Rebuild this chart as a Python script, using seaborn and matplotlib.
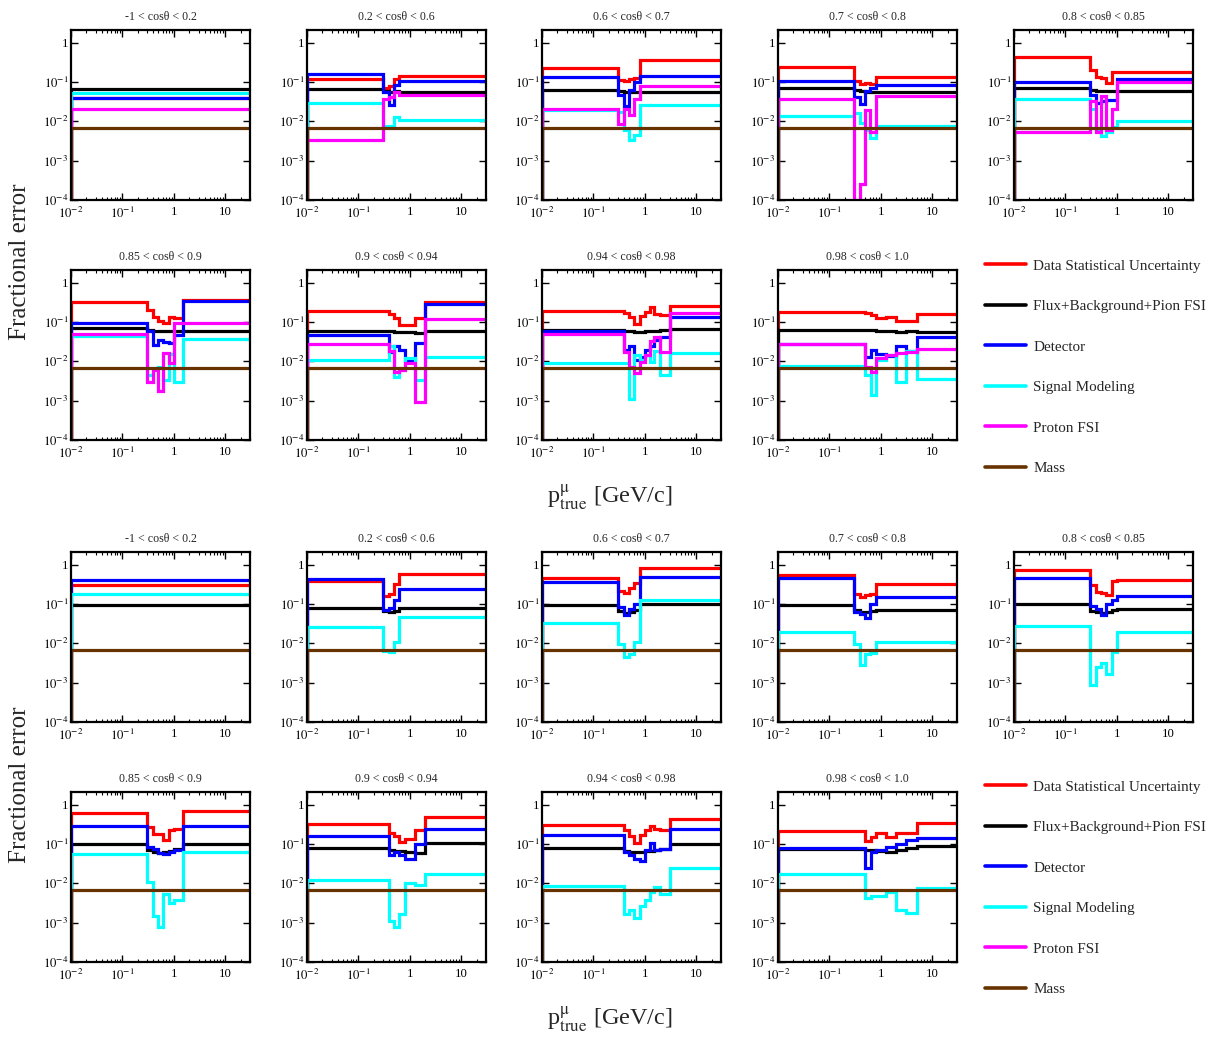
import matplotlib
matplotlib.use("Agg")
import matplotlib.pyplot as plt
import seaborn as sns
import pandas as pd
from matplotlib.lines import Line2D
from matplotlib.ticker import NullLocator, LogLocator

# ---------------- data ----------------
TITLES = ["-1 < cosθ < 0.2", "0.2 < cosθ < 0.6", "0.6 < cosθ < 0.7", "0.7 < cosθ < 0.8",
          "0.8 < cosθ < 0.85", "0.85 < cosθ < 0.9", "0.9 < cosθ < 0.94", "0.94 < cosθ < 0.98",
          "0.98 < cosθ < 1.0"]

EDGES = [
    [0.01, 30],
    [0.01, 0.3, 0.4, 0.5, 0.6, 30],
    [0.01, 0.3, 0.4, 0.5, 0.6, 0.8, 30],
    [0.01, 0.3, 0.4, 0.5, 0.6, 0.8, 30],
    [0.01, 0.3, 0.4, 0.5, 0.6, 0.8, 1.0, 30],
    [0.01, 0.3, 0.4, 0.5, 0.6, 0.8, 1.0, 1.5, 30],
    [0.01, 0.4, 0.5, 0.6, 0.8, 1.25, 2.0, 30],
    [0.01, 0.4, 0.5, 0.6, 0.8, 1.0, 1.25, 1.5, 2.0, 3.0, 30],
    [0.01, 0.5, 0.65, 0.8, 1.25, 2.0, 3.0, 5.0, 30],
]

SERIES_LABELS = ["Data Statistical Uncertainty", "Flux+Background+Pion FSI", "Detector",
                 "Signal Modeling", "Proton FSI", "Mass"]
SERIES_COLORS = ["#ff0000", "#000000", "#0000ff", "#00ffff", "#ff00ff", "#663300"]

X_TICKS = [0.01, 0.1, 1, 10]
X_TICKLABELS = [r"$10^{-2}$", r"$10^{-1}$", "1", "10"]
Y_TICKS = [1e-4, 1e-3, 1e-2, 1e-1, 1]
Y_TICKLABELS = [r"$10^{-4}$", r"$10^{-3}$", r"$10^{-2}$", r"$10^{-1}$", "1"]

# ---- upper group ----
TOP_RED = [
    [0.040],
    [0.12, 0.07, 0.08, 0.12, 0.145],
    [0.23, 0.11, 0.108, 0.12, 0.13, 0.36],
    [0.245, 0.106, 0.087, 0.092, 0.087, 0.137],
    [0.44, 0.20, 0.137, 0.13, 0.093, 0.18, 0.18],
    [0.32, 0.20, 0.137, 0.106, 0.093, 0.137, 0.13, 0.36],
    [0.194, 0.157, 0.13, 0.084, 0.084, 0.13, 0.33],
    [0.19, 0.166, 0.137, 0.087, 0.142, 0.18, 0.245, 0.157, 0.15, 0.255],
    [0.18, 0.166, 0.15, 0.124, 0.137, 0.106, 0.106, 0.157],
]
TOP_BLACK = [
    [0.066],
    [0.066, 0.059, 0.055, 0.058, 0.057],
    [0.063, 0.058, 0.057, 0.057, 0.056, 0.055],
    [0.069, 0.062, 0.058, 0.057, 0.056, 0.055],
    [0.069, 0.062, 0.060, 0.059, 0.059, 0.059, 0.059],
    [0.069, 0.064, 0.060, 0.059, 0.058, 0.058, 0.059, 0.060],
    [0.059, 0.058, 0.057, 0.056, 0.055, 0.054, 0.060],
    [0.063, 0.060, 0.058, 0.057, 0.057, 0.058, 0.058, 0.060, 0.062, 0.066],
    [0.063, 0.062, 0.061, 0.060, 0.058, 0.056, 0.060, 0.056],
]
TOP_BLUE = [
    [0.040],
    [0.157, 0.055, 0.026, 0.084, 0.106],
    [0.137, 0.048, 0.024, 0.063, 0.098, 0.145],
    [0.106, 0.042, 0.027, 0.059, 0.072, 0.084],
    [0.098, 0.047, 0.029, 0.032, 0.035, 0.035, 0.12],
    [0.096, 0.059, 0.026, 0.035, 0.031, 0.029, 0.047, 0.34],
    [0.048, 0.017, 0.025, 0.019, 0.011, 0.029, 0.28],
    [0.059, 0.019, 0.025, 0.011, 0.013, 0.019, 0.025, 0.035, 0.042, 0.137],
    [0.027, 0.013, 0.019, 0.015, 0.014, 0.024, 0.018, 0.042],
]
TOP_CYAN = [
    [0.052],
    [0.030, 0.0078, 0.0078, 0.0126, 0.0108],
    [0.019, 0.017, 0.006, 0.0034, 0.0045, 0.026],
    [0.014, 0.016, 0.009, 0.006, 0.0038, 0.0078],
    [0.036, 0.021, 0.006, 0.0043, 0.0055, 0.0073, 0.0102],
    [0.045, 0.0045, 0.006, 0.007, 0.0034, 0.015, 0.003, 0.036],
    [0.011, 0.024, 0.0041, 0.006, 0.012, 0.0034, 0.013],
    [0.0089, 0.0089, 0.0011, 0.0145, 0.011, 0.0145, 0.0098, 0.018, 0.0045, 0.016],
    [0.0078, 0.0045, 0.0014, 0.011, 0.0145, 0.0029, 0.018, 0.0036],
]
TOP_MAGENTA = [
    [0.021],
    [0.0034, 0.036, 0.042, 0.055, 0.048],
    [0.020, 0.0084, 0.021, 0.0145, 0.036, 0.08],
    [0.036, 0.0001, 0.00025, 0.019, 0.0055, 0.045],
    [0.0055, 0.032, 0.0055, 0.045, 0.006, 0.02, 0.1],
    [0.051, 0.003, 0.006, 0.0018, 0.016, 0.009, 0.096, 0.096],
    [0.027, 0.018, 0.0055, 0.006, 0.009, 0.00094, 0.12],
    [0.051, 0.0175, 0.0073, 0.005, 0.0098, 0.0145, 0.032, 0.042, 0.0175, 0.166],
    [0.027, 0.0073, 0.0055, 0.012, 0.0145, 0.016, 0.0175, 0.021],
]
TOP_BROWN = [
    [0.0066],
    [0.0066, 0.0066, 0.0066, 0.0066, 0.0066],
    [0.0066, 0.0066, 0.0066, 0.0066, 0.0066, 0.0066],
    [0.0066, 0.0066, 0.0066, 0.0066, 0.0066, 0.0066],
    [0.0066, 0.0066, 0.0066, 0.0066, 0.0066, 0.0066, 0.0066],
    [0.0066, 0.0066, 0.0066, 0.0066, 0.0066, 0.0066, 0.0066, 0.0066],
    [0.0066, 0.0066, 0.0066, 0.0066, 0.0066, 0.0066, 0.0066],
    [0.0066, 0.0066, 0.0066, 0.0066, 0.0066, 0.0066, 0.0066, 0.0066, 0.0066, 0.0066],
    [0.0066, 0.0066, 0.0066, 0.0066, 0.0066, 0.0066, 0.0066, 0.0066],
]

# ---- lower group ----
BOT_RED = [
    [0.31],
    [0.38, 0.157, 0.176, 0.33, 0.57],
    [0.47, 0.22, 0.19, 0.26, 0.34, 0.84],
    [0.535, 0.18, 0.15, 0.166, 0.18, 0.316],
    [0.75, 0.30, 0.20, 0.19, 0.17, 0.38, 0.40],
    [0.61, 0.27, 0.18, 0.18, 0.13, 0.23, 0.245, 0.68],
    [0.316, 0.19, 0.16, 0.11, 0.137, 0.23, 0.50],
    [0.30, 0.23, 0.157, 0.106, 0.17, 0.23, 0.28, 0.245, 0.23, 0.42],
    [0.22, 0.12, 0.15, 0.19, 0.15, 0.19, 0.19, 0.34],
]
BOT_BLACK = [
    [0.096],
    [0.079, 0.065, 0.063, 0.065, 0.079],
    [0.093, 0.065, 0.060, 0.063, 0.070, 0.10],
    [0.096, 0.069, 0.063, 0.063, 0.066, 0.069],
    [0.098, 0.065, 0.062, 0.060, 0.063, 0.072, 0.076],
    [0.098, 0.069, 0.063, 0.059, 0.062, 0.065, 0.073, 0.10],
    [0.081, 0.072, 0.068, 0.066, 0.063, 0.059, 0.106],
    [0.079, 0.068, 0.063, 0.062, 0.064, 0.066, 0.068, 0.072, 0.076, 0.10],
    [0.076, 0.069, 0.072, 0.066, 0.063, 0.069, 0.079, 0.087],
]
BOT_BLUE = [
    [0.415],
    [0.42, 0.072, 0.078, 0.13, 0.236],
    [0.36, 0.084, 0.052, 0.076, 0.098, 0.50],
    [0.47, 0.063, 0.055, 0.045, 0.098, 0.15],
    [0.47, 0.087, 0.076, 0.052, 0.10, 0.128, 0.157],
    [0.28, 0.084, 0.076, 0.059, 0.055, 0.063, 0.070, 0.28],
    [0.16, 0.052, 0.063, 0.052, 0.042, 0.098, 0.236],
    [0.166, 0.063, 0.052, 0.042, 0.036, 0.069, 0.106, 0.072, 0.076, 0.236],
    [0.081, 0.024, 0.063, 0.072, 0.084, 0.098, 0.124, 0.145],
]
BOT_CYAN = [
    [0.183],
    [0.026, 0.0063, 0.006, 0.0109, 0.048],
    [0.033, 0.0098, 0.0045, 0.0055, 0.011, 0.128],
    [0.0195, 0.0098, 0.0028, 0.0055, 0.0057, 0.011],
    [0.0276, 0.00085, 0.0025, 0.0032, 0.0017, 0.006, 0.0195],
    [0.055, 0.011, 0.0015, 0.00078, 0.0055, 0.0032, 0.0037, 0.063],
    [0.0124, 0.0011, 0.00078, 0.0017, 0.0102, 0.0093, 0.017],
    [0.0086, 0.0017, 0.0021, 0.0013, 0.0026, 0.0037, 0.006, 0.0081, 0.0055, 0.0246],
    [0.017, 0.0042, 0.0047, 0.0047, 0.006, 0.0021, 0.0018, 0.0078],
]
BOT_MAGENTA = [None] * 9  # no proton FSI contribution drawn in the lower group
BOT_BROWN = TOP_BROWN

YMIN, YMAX = 1e-4, 2.1
XMIN, XMAX = 0.01, 30

# ---------------- style ----------------
sns.set_theme(style="ticks")
plt.rcParams["font.family"] = ["Liberation Serif", "DejaVu Serif"]
plt.rcParams["mathtext.fontset"] = "stix"

W, H = 1217, 1041
fig = plt.figure(figsize=(W / 100, H / 100), dpi=100)

COL_X = [71, 307, 542, 778, 1014]
PW, PH = 179, 170
GROUPS = [
    dict(rows=[30, 270], series=[TOP_RED, TOP_BLACK, TOP_BLUE, TOP_CYAN, TOP_MAGENTA, TOP_BROWN],
         ylab_y=262, xlab_y=497, leg_y=259),
    dict(rows=[552, 792], series=[BOT_RED, BOT_BLACK, BOT_BLUE, BOT_CYAN, BOT_MAGENTA, BOT_BROWN],
         ylab_y=785, xlab_y=1019, leg_y=780),
]


def step_frame(edges, vals):
    xs = [edges[0]] + list(edges)
    ys = [YMIN] + list(vals) + [vals[-1]]
    return pd.DataFrame({"p": xs, "err": ys})


for g in GROUPS:
    for i in range(9):
        r, c = divmod(i, 5)
        top = g["rows"][r]
        x0 = COL_X[c]
        ax = fig.add_axes([x0 / W, 1 - (top + PH) / H, PW / W, PH / H])
        for s_idx, s in enumerate(g["series"]):
            vals = s[i]
            if vals is None:
                continue
            df = step_frame(EDGES[i], vals)
            sns.lineplot(data=df, x="p", y="err", ax=ax, estimator=None, sort=False,
                         drawstyle="steps-post", color=SERIES_COLORS[s_idx], lw=2.3,
                         solid_joinstyle="miter", clip_on=True)
        ax.set_xscale("log")
        ax.set_yscale("log")
        ax.set_xlim(XMIN, XMAX)
        ax.set_ylim(YMIN, YMAX)
        ax.set_xticks(X_TICKS)
        ax.set_xticklabels(X_TICKLABELS)
        ax.set_yticks(Y_TICKS)
        ax.set_yticklabels(Y_TICKLABELS)
        ax.xaxis.set_minor_locator(LogLocator(base=10, subs=range(2, 10), numticks=20))
        ax.yaxis.set_minor_locator(NullLocator())
        ax.tick_params(which="both", direction="in", top=True, right=True, labelsize=9.2,
                       colors="black")
        ax.tick_params(axis="x", pad=4)
        ax.tick_params(axis="y", pad=2)
        ax.tick_params(which="major", length=5, width=1.0)
        ax.tick_params(which="minor", length=2.5, width=0.8)
        for sp in ax.spines.values():
            sp.set_linewidth(1.6)
            sp.set_color("black")
        ax.set_xlabel("")
        ax.set_ylabel("")
        ax.set_title(TITLES[i], fontsize=8.6, pad=7)
        ax.grid(False)

    fig.text(20 / W, 1 - g["ylab_y"] / H, "Fractional error", rotation=90,
             ha="center", va="center", fontsize=18)
    fig.text(610 / W, 1 - g["xlab_y"] / H, r"p$^{\mathrm{μ}}_{\mathrm{true}}$ [GeV/c]",
             ha="center", va="center", fontsize=17.5)

    handles = [Line2D([], [], color=col, lw=2.6) for col in SERIES_COLORS]
    fig.legend(handles, SERIES_LABELS, loc="upper left",
               bbox_to_anchor=(985 / W, 1 - g["leg_y"] / H), frameon=False,
               fontsize=10.9, handlelength=2.7, handletextpad=0.5, labelspacing=1.78,
               borderpad=0, borderaxespad=0)

fig.savefig("out.png", dpi=100)
